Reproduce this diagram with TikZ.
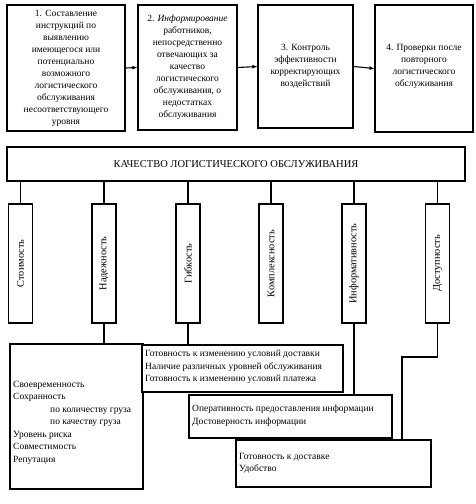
\documentclass[tikz,border=0pt]{standalone}
\usepackage{fontspec}
\setmainfont{Liberation Serif}
\usetikzlibrary{arrows.meta}
\begin{document}
\begin{tikzpicture}[x=1pt,y=-1pt,
  box/.style={draw, line width=1.1pt, fill=white, inner sep=0pt},
  txt/.style={font=\fontsize{9.5}{12}\selectfont, align=center, inner sep=0pt},
  ltxt/.style={font=\fontsize{9.5}{12.5}\selectfont, align=left, inner sep=0pt, anchor=north west},
  vtxt/.style={font=\fontsize{10.3}{11}\selectfont, rotate=90, inner sep=0pt},
  conn/.style={line width=1.1pt},
  arr/.style={line width=1.1pt, -{Latex[length=5pt,width=4pt]}}]
\useasboundingbox (0,0) rectangle (475,504);
% top row
\node[box, minimum width=118pt, minimum height=126pt] (t1) at (66,68) {};
\node[box, minimum width=99pt, minimum height=125pt] (t2) at (187.5,67.5) {};
\node[box, minimum width=95pt, minimum height=123pt] (t3) at (305.5,66.5) {};
\node[box, minimum width=98pt, minimum height=127pt] (t4) at (424,68.5) {};
\node[txt] (t1t) at (t1.center) {1. Составление\\инструкций по\\выявлению\\имеющегося или\\потенциально\\возможного\\логистического\\обслуживания\\несоответствующего\\уровня};
\node[txt] (t2t) at (t2.center) {2. \textit{Информирование}\\работников,\\непосредственно\\отвечающих за\\качество\\логистического\\обслуживания, о\\недостатках\\обслуживания};
\node[txt] (t3t) at (t3.center) {3. Контроль\\эффективности\\корректирующих\\воздействий};
\node[txt] (t4t) at ([yshift=2pt]t4.center) {4. Проверки после\\повторного\\логистического\\обслуживания};
\draw[arr] (t1.east) -- (t2.west);
\draw[arr] (t2.east) -- (t3.west);
\draw[arr] (t3.east) -- (t4.west);
% main box
\node[box, minimum width=458pt, minimum height=34pt, font=\fontsize{10.5}{12}\selectfont] (m) at (236,164) {КАЧЕСТВО ЛОГИСТИЧЕСКОГО ОБСЛУЖИВАНИЯ};
% small boxes
\foreach \n/\x/\t in {a/20.5/Стоимость, b/104/Надежность, c/188/Гибкость, d/271/Комплексность, e/354/Информативность, f/437.5/Доступность}{
  \node[box, minimum width=24pt, minimum height=119pt] (\n) at (\x,263.5) {};
  \node[vtxt] (\n t) at (\n.center) {\t};
  \draw[conn] (\n.north |- m.south) -- (\n.north);
}
% bottom boxes
\node[box, minimum width=133pt, minimum height=145pt] (B1) at (76.5,416.5) {};
\node[box, minimum width=201pt, minimum height=47pt] (B2) at (242.5,368.5) {};
\node[box, minimum width=203pt, minimum height=43pt] (B3) at (290.5,416.5) {};
\node[box, minimum width=195pt, minimum height=47pt] (B4) at (333.5,463.5) {};
\node[ltxt] (B1t) at (13,381) {Своевременность\\Сохранность\\\hspace*{37pt}по количеству груза\\\hspace*{37pt}по качеству груза\\Уровень риска\\Совместимость\\Репутация};
\node[ltxt] (B2t) at (145,350) {Готовность к изменению условий доставки\\Наличие различных уровней обслуживания\\Готовность к изменению условий платежа};
\node[ltxt] (B3t) at (192,405) {Оперативность предоставления информации\\Достоверность информации};
\node[ltxt] (B4t) at (239,453) {Готовность к доставке\\Удобство};
% connectors to bottom
\draw[conn] (b.south) -- (b.south |- B1.north);
\draw[conn] (c.south) -- (c.south |- B2.north);
\draw[conn] (e.south) -- (e.south |- B3.north);
\coordinate (fk) at (402,357);
\draw[conn] (f.south) |- (fk) -- (fk |- B4.north);
\end{tikzpicture}
\end{document}
